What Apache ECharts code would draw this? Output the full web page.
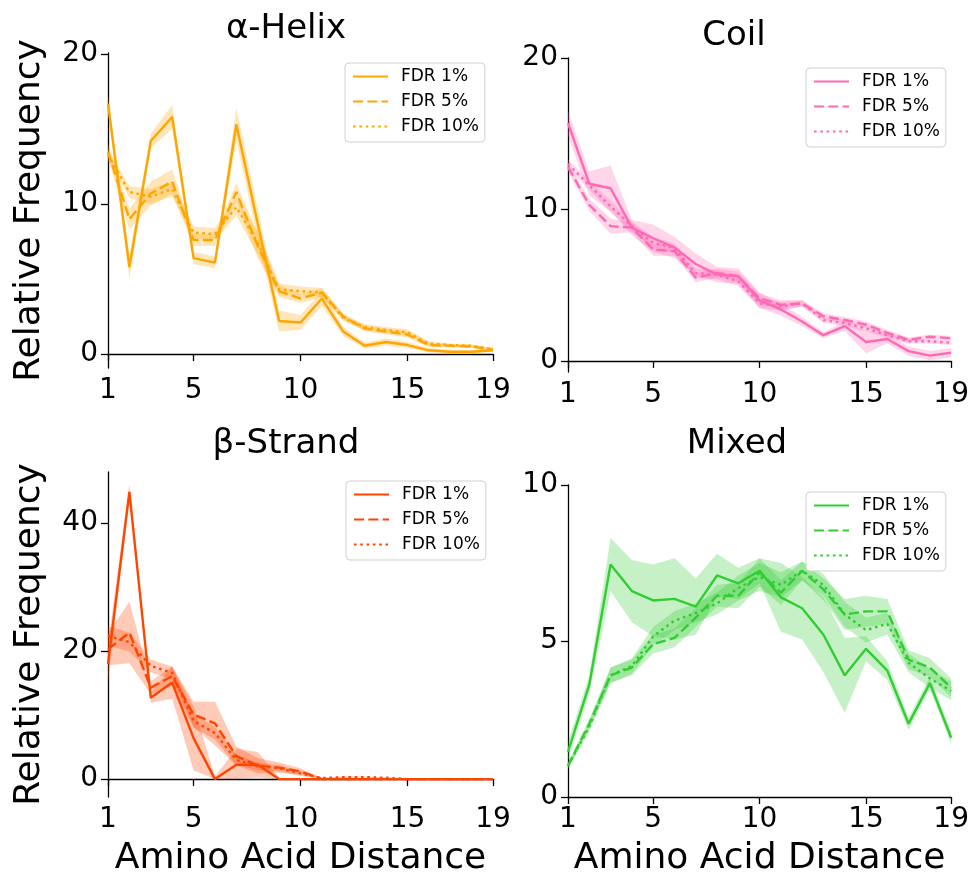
<!DOCTYPE html>
<html>
<head>
<meta charset="utf-8">
<title>Relative Frequency by Amino Acid Distance</title>
<script src="https://cdn.jsdelivr.net/npm/echarts@6/dist/echarts.min.js"></script>
<style>
  html, body { margin: 0; padding: 0; background: #fff; }
  #chart { width: 972px; height: 878px; }
</style>
</head>
<body>
<div id="chart"></div>
<script>
(function (echarts) {
  "use strict";

  // x positions (amino acid distance) and tick labels
  var distance = [1, 2, 3, 4, 5, 6, 7, 8, 9, 10, 11, 12, 13, 14, 15, 16, 17, 18, 19];
  var distanceTicks = [1, 5, 10, 15, 19];
  var fdrLabels = ["FDR 1%", "FDR 5%", "FDR 10%"];

  // alpha-helix
  var helixFdr1 = [16.7, 5.8, 14.2, 15.8, 6.4, 6.1, 15.3, 8.7, 2.2, 2.1, 3.7, 1.5, 0.55, 0.8, 0.6, 0.25, 0.15, 0.15, 0.25];
  var helixFdr5 = [13.5, 9.0, 10.7, 11.5, 7.6, 7.6, 10.8, 7.2, 4.2, 3.7, 4.1, 2.5, 1.7, 1.5, 1.3, 0.6, 0.55, 0.5, 0.3];
  var helixFdr10 = [13.3, 10.8, 10.5, 11.0, 8.1, 8.0, 9.8, 7.4, 4.3, 4.2, 4.1, 2.4, 1.8, 1.6, 1.45, 0.7, 0.6, 0.55, 0.3];
  var helixErr1 = [0.6, 0.8, 0.5, 0.8, 0.4, 0.4, 1.1, 1.0, 0.7, 0.5, 0.5, 0.3, 0.2, 0.25, 0.2, 0.15, 0.1, 0.1, 0.1];
  var helixErr5 = [0.5, 0.7, 0.8, 0.8, 0.4, 0.4, 0.6, 0.8, 0.4, 0.3, 0.3, 0.2, 0.2, 0.2, 0.2, 0.15, 0.1, 0.1, 0.1];
  var helixErr10 = [0.4, 0.4, 0.5, 0.5, 0.4, 0.4, 0.6, 0.8, 0.4, 0.3, 0.3, 0.2, 0.2, 0.2, 0.2, 0.15, 0.1, 0.1, 0.1];

  // coil
  var coilFdr1 = [15.7, 11.7, 11.4, 8.8, 8.1, 7.5, 6.4, 5.7, 5.6, 4.0, 3.4, 2.6, 1.7, 2.3, 1.25, 1.45, 0.65, 0.35, 0.55];
  var coilFdr5 = [12.8, 10.3, 8.9, 8.8, 7.35, 7.25, 5.5, 5.8, 5.6, 4.15, 3.7, 3.8, 2.95, 2.7, 2.4, 1.85, 1.4, 1.6, 1.5];
  var coilFdr10 = [13.0, 11.6, 10.2, 8.9, 7.8, 7.45, 5.8, 5.7, 5.25, 3.8, 3.6, 3.8, 2.7, 2.5, 2.15, 1.7, 1.3, 1.3, 1.2];
  var coilErr1 = [0.8, 0.8, 1.5, 0.5, 0.9, 0.7, 0.7, 0.5, 0.5, 0.5, 0.4, 0.3, 0.2, 0.3, 0.75, 0.3, 0.3, 0.3, 0.3];
  var coilErr5 = [0.3, 0.4, 0.5, 0.3, 0.4, 0.3, 0.3, 0.3, 0.3, 0.3, 0.3, 0.2, 0.2, 0.2, 0.2, 0.2, 0.15, 0.15, 0.15];
  var coilErr10 = [0.3, 0.3, 0.4, 0.3, 0.4, 0.3, 0.3, 0.3, 0.3, 0.3, 0.3, 0.2, 0.2, 0.2, 0.2, 0.2, 0.15, 0.15, 0.15];

  // beta-strand
  var strandFdr1 = [18.0, 44.9, 12.7, 15.1, 6.4, 0, 2.25, 2.25, 0, 0, 0, 0, 0, 0, 0, 0, 0, 0, 0];
  var strandFdr5 = [20.3, 22.9, 14.3, 16.1, 10.1, 8.7, 3.6, 2.1, 1.8, 1.2, 0, 0, 0, 0, 0, 0, 0, 0, 0];
  var strandFdr10 = [22.4, 21.4, 17.7, 16.6, 9.1, 7.2, 3.0, 2.0, 1.7, 0.9, 0.15, 0.3, 0.3, 0.2, 0, 0, 0, 0, 0];
  var strandErr1 = [3.0, 1.2, 0.8, 2.5, 5.0, 0.4, 2.5, 2.0, 0.2, 0, 0, 0, 0, 0, 0, 0, 0, 0, 0];
  var strandErr5 = [2.5, 4.8, 1.0, 1.5, 2.0, 3.4, 1.5, 1.2, 0.8, 0.5, 0, 0, 0, 0, 0, 0, 0, 0, 0];
  var strandErr10 = [1.5, 1.5, 1.0, 1.0, 1.0, 1.0, 0.8, 0.6, 0.5, 0.4, 0.1, 0.1, 0.1, 0.1, 0, 0, 0, 0, 0];

  // mixed
  var mixedFdr1 = [1.45, 3.6, 7.45, 6.6, 6.3, 6.35, 6.1, 7.1, 6.85, 7.25, 6.4, 6.05, 5.2, 3.9, 4.75, 4.05, 2.35, 3.65, 1.9];
  var mixedFdr5 = [1.0, 2.35, 3.9, 4.15, 4.9, 5.1, 5.75, 6.45, 6.45, 7.2, 6.55, 7.25, 6.65, 5.85, 5.95, 5.95, 4.4, 4.15, 3.5];
  var mixedFdr10 = [1.0, 2.25, 3.9, 4.2, 5.15, 5.65, 5.9, 6.2, 6.7, 7.05, 6.8, 7.25, 6.8, 5.85, 5.35, 5.55, 4.3, 3.8, 3.4];
  var mixedErr1 = [0.3, 0.3, 0.85, 1.0, 1.15, 1.3, 0.9, 0.7, 0.5, 0.4, 1.1, 1.0, 1.2, 1.2, 0.4, 0.3, 0.2, 0.2, 0.2];
  var mixedErr5 = [0.1, 0.15, 0.25, 0.25, 0.3, 0.3, 0.3, 0.35, 0.4, 0.45, 0.4, 0.3, 0.35, 0.5, 0.5, 0.4, 0.3, 0.3, 0.3];
  var mixedErr10 = [0.1, 0.15, 0.25, 0.25, 0.3, 0.3, 0.3, 0.35, 0.4, 0.45, 0.4, 0.3, 0.35, 0.4, 0.4, 0.35, 0.3, 0.3, 0.3];

  var FONT = "DejaVu Sans";
  var dashTypes = ["solid", [10, 4.3], [2.6, 3.7]];

  var panels = [
    {
      key: "helix", title: "α-Helix", color: "#ffa500",
      lines: [helixFdr1, helixFdr5, helixFdr10], errs: [helixErr1, helixErr5, helixErr10],
      grid: { left: 108, top: 53, width: 385, height: 315 },
      y: { min: -0.93, max: 20.07, ticks: [0, 10, 20] },
      titlePos: { left: 286, top: 12 }, legendPos: { left: 345, top: 63 },
      yName: true, xName: false
    },
    {
      key: "coil", title: "Coil", color: "#ff69b4",
      lines: [coilFdr1, coilFdr5, coilFdr10], errs: [coilErr1, coilErr5, coilErr10],
      grid: { left: 568, top: 58, width: 385, height: 314 },
      y: { min: -0.73, max: 20, ticks: [0, 10, 20] },
      titlePos: { left: 734, top: 19 }, legendPos: { left: 806, top: 68 },
      yName: false, xName: false
    },
    {
      key: "strand", title: "β-Strand", color: "#ff4500",
      lines: [strandFdr1, strandFdr5, strandFdr10], errs: [strandErr1, strandErr5, strandErr10],
      grid: { left: 108, top: 472, width: 385, height: 325 },
      y: { min: -2.8, max: 48, ticks: [0, 20, 40] },
      titlePos: { left: 286, top: 427 }, legendPos: { left: 346, top: 481 },
      yName: true, xName: true
    },
    {
      key: "mixed", title: "Mixed", color: "#32cd32",
      lines: [mixedFdr1, mixedFdr5, mixedFdr10], errs: [mixedErr1, mixedErr5, mixedErr10],
      grid: { left: 568, top: 485, width: 385, height: 312 },
      y: { min: 0, max: 10, ticks: [0, 5, 10] },
      titlePos: { left: 737, top: 427 }, legendPos: { left: 806, top: 492 },
      yName: false, xName: true
    }
  ];

  function pairs(values) {
    return distance.map(function (d, i) { return [d, values[i]]; });
  }

  // confidence band drawn as one polygon through the grid's own coordinate system
  function bandSeries(gi, vals, err, color) {
    var lower = vals.map(function (v, i) { return Math.max(0, v - err[i]); });
    var upper = vals.map(function (v, i) { return v + err[i]; });
    return {
      type: "custom", xAxisIndex: gi, yAxisIndex: gi, silent: true, z: 1,
      data: distance.map(function (d, i) { return [d, lower[i], upper[i]]; }),
      encode: { x: 0, y: [1, 2] },
      renderItem: function (params, api) {
        if (params.dataIndex !== 0) {
          return null;
        }
        var points = [], i;
        for (i = 0; i < distance.length; i++) {
          points.push(api.coord([distance[i], upper[i]]));
        }
        for (i = distance.length - 1; i >= 0; i--) {
          points.push(api.coord([distance[i], lower[i]]));
        }
        return {
          type: "polygon",
          shape: { points: points },
          style: { fill: color, opacity: 0.28 }
        };
      }
    };
  }

  var option = {
    backgroundColor: "#fff",
    animation: false,
    textStyle: { fontFamily: FONT },
    title: [], grid: [], xAxis: [], yAxis: [], legend: [], series: []
  };

  panels.forEach(function (p, gi) {
    option.grid.push(p.grid);

    option.title.push({
      text: p.title, left: p.titlePos.left, top: p.titlePos.top, textAlign: "center", padding: 0,
      textStyle: { fontFamily: FONT, fontSize: 34, fontWeight: "normal", color: "#000" }
    });

    option.xAxis.push({
      type: "value", gridIndex: gi, min: 1, max: 19,
      name: p.xName ? "Amino Acid Distance" : "", nameLocation: "middle", nameGap: 44,
      nameTextStyle: { fontFamily: FONT, fontSize: 36, color: "#000" },
      axisLine: { lineStyle: { color: "#000", width: 1.3 } },
      axisTick: { length: 7, lineStyle: { color: "#000", width: 1.3 }, customValues: distanceTicks },
      axisLabel: { customValues: distanceTicks, fontFamily: FONT, fontSize: 28, color: "#000", margin: 9 },
      splitLine: { show: false }
    });

    option.yAxis.push({
      type: "value", gridIndex: gi, min: p.y.min, max: p.y.max,
      name: p.yName ? "Relative Frequency" : "", nameLocation: "middle", nameGap: 60,
      nameTextStyle: { fontFamily: FONT, fontSize: 36, color: "#000" },
      axisLine: { show: true, onZero: false, lineStyle: { color: "#000", width: 1.3 } },
      axisTick: { show: true, length: 7, lineStyle: { color: "#000", width: 1.3 }, customValues: p.y.ticks },
      axisLabel: { customValues: p.y.ticks, fontFamily: FONT, fontSize: 28, color: "#000", margin: 10 },
      splitLine: { show: false }
    });

    option.legend.push({
      data: fdrLabels.map(function (l) { return p.key + "|" + l; }),
      formatter: function (name) { return name.split("|")[1]; },
      orient: "vertical", left: p.legendPos.left, top: p.legendPos.top,
      itemWidth: 35, itemHeight: 12, itemGap: 8, selectedMode: false,
      padding: [5, 6, 7, 7], backgroundColor: "#fff",
      borderColor: "#d0d0d0", borderWidth: 1, borderRadius: 4,
      itemStyle: { color: "rgba(0,0,0,0)", borderWidth: 0, opacity: 0 },
      textStyle: { fontFamily: FONT, fontSize: 17, color: "#000", padding: [0, 0, 0, 8] }
    });

    p.lines.forEach(function (vals, j) {
      option.series.push(bandSeries(gi, vals, p.errs[j], p.color));
    });

    p.lines.forEach(function (vals, j) {
      option.series.push({
        name: p.key + "|" + fdrLabels[j],
        type: "line", xAxisIndex: gi, yAxisIndex: gi,
        data: pairs(vals), symbol: "none", z: 3,
        itemStyle: { color: p.color },
        lineStyle: { color: p.color, width: 2.4, type: dashTypes[j] }
      });
    });
  });

  var chart = echarts.init(document.getElementById("chart"), null, { renderer: "canvas" });
  chart.setOption(option);
})(echarts);
</script>
</body>
</html>
